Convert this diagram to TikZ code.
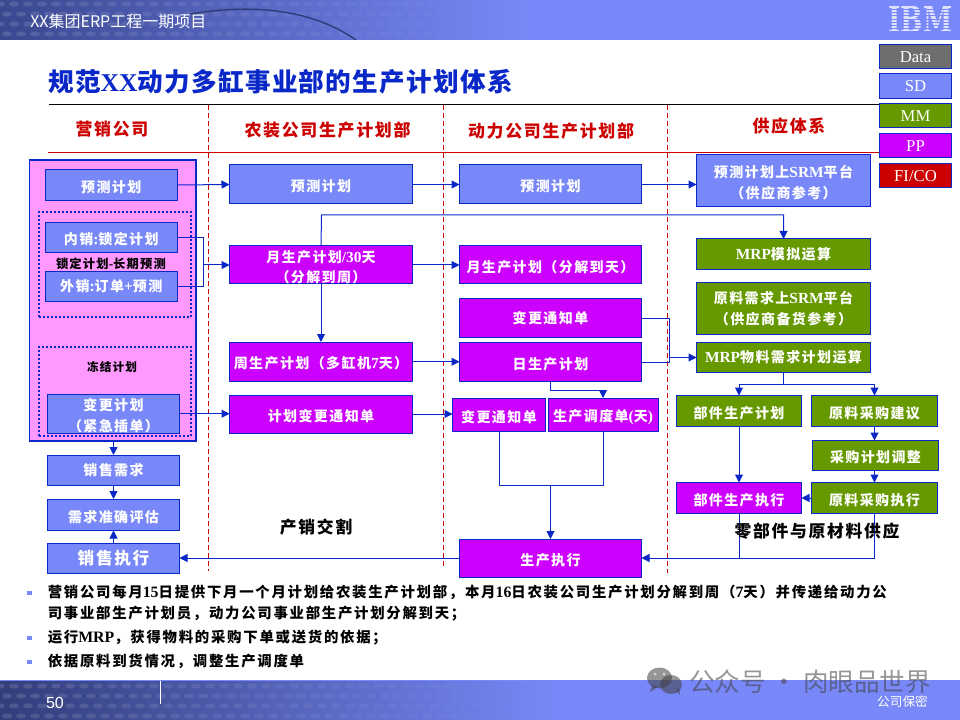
\documentclass[tikz,border=0pt]{standalone}
\usepackage{fontspec}
\usetikzlibrary{arrows.meta}
\setmainfont{Liberation Serif}
\newfontfamily\cj[LetterSpace=10]{Noto Sans CJK SC}
\newfontfamily\cjw[LetterSpace=12]{Noto Sans CJK SC}
\newfontfamily\tcj[LetterSpace=5]{Noto Sans CJK SC}
\newfontfamily\cjplain{Noto Sans CJK SC}
\newfontfamily\lat[Scale=1.1]{Liberation Serif}
\newfontfamily\latplain{Liberation Serif}
\newfontfamily\sanslat{Liberation Sans}
\newfontfamily\slab{DejaVu Serif}
\definecolor{sdc}{HTML}{7888F8}
\definecolor{edgec}{HTML}{0A28C8}
\definecolor{pinkc}{HTML}{FF99FF}
\definecolor{ppc}{HTML}{CC00FF}
\definecolor{mmc}{HTML}{669900}
\definecolor{datac}{HTML}{6E6E6E}
\definecolor{fic}{HTML}{CC0000}
\definecolor{bandd}{HTML}{3A4890}
\newcommand{\bx}[7]{%
  \pgfmathsetmacro\bw{(#5-#3)*0.75}\pgfmathsetmacro\bh{(#6-#4)*0.75}%
  \node[#2,minimum width=\bw pt,minimum height=\bh pt] (#1) at ({(#3+#5)/2},{(#4+#6)/2}) {#7};}
\newcommand{\bxt}[7]{\bx{#1}{#2}{#3}{#4}{#5}{#6}{\rule{0pt}{12pt}#7}}
\tikzset{
  stepbase/.style={draw=edgec,line width=0.75pt,inner sep=0pt,outer sep=0pt,align=center,text=white,
    font=\fontsize{10.5pt}{15.2pt}\selectfont\cj\bfseries},
  sdbox/.style={stepbase,fill=sdc},
  ppbox/.style={stepbase,fill=ppc},
  mmbox/.style={stepbase,fill=mmc},
  legendbox/.style={draw=edgec,line width=0.75pt,inner sep=0pt,outer sep=0pt,text=white,
    font=\fontsize{12.5pt}{14pt}\selectfont\latplain},
  conn/.style={draw=edgec,line width=0.75pt},
  arr/.style={conn,-{Triangle[length=6pt,width=6pt]}},
  head/.style={text=fic,font=\fontsize{12.7pt}{14pt}\selectfont\cj\bfseries,inner sep=0pt},
  note/.style={text=black,font=\fontsize{12.6pt}{14pt}\selectfont\cj\bfseries,inner sep=0pt},
  smallnote/.style={text=black,inner sep=0pt,font=\fontsize{9.2pt}{10pt}\selectfont\cj\bfseries},
  smallnoteb/.style={text=black,inner sep=0pt,font=\fontsize{8.7pt}{10pt}\selectfont\cj\bfseries},
  bullettext/.style={anchor=base west,text=black,inner sep=0pt,font=\fontsize{10.8pt}{14pt}\selectfont\cjw\bfseries},
  bulletmark/.style={fill=sdc,inner sep=0pt,minimum width=3.6pt,minimum height=3.6pt},
  sepline/.style={draw=fic,line width=0.75pt,dash pattern=on 3.6pt off 2.4pt},
}
\begin{document}
\begin{tikzpicture}[x=0.75pt,y=-0.75pt]
\useasboundingbox (0,0) rectangle (960,720);
% bands
\fill[sdc] (0,0) rectangle (960,40.5);
\fill[sdc] (0,680) rectangle (960,720);
\shade[left color=bandd,right color=sdc] (0,0) rectangle (530,40);
\shade[left color=bandd!85!black,right color=sdc] (0,681.5) rectangle (560,720);
\begin{scope}
\clip (0,0) rectangle (530,40);
\foreach \i in {0,...,36}{\foreach \j in {0,...,3}{
  \pgfmathsetmacro\op{0.13*(1-\i/37)}
  \fill[white,opacity=\op] ({\i*14+(mod(\j,2))*7},{4+\j*10}) ellipse (5 and 2.6);}}
\draw[bandd!80!black,line width=1pt] (190,14) .. controls (250,4) and (310,8) .. (356,40);
\end{scope}
\begin{scope}
\clip (0,681.5) rectangle (560,720);
\foreach \i in {0,...,38}{\foreach \j in {0,...,3}{
  \pgfmathsetmacro\op{0.13*(1-\i/39)}
  \fill[white,opacity=\op] ({\i*14+(mod(\j,2))*7},{686+\j*10}) ellipse (5 and 2.6);}}
\end{scope}
\node[anchor=west,text=white,inner sep=0pt,font=\fontsize{12pt}{13pt}\selectfont\cjplain] (hdr) at (30,21) {XX集团ERP工程一期项目};
\node[anchor=center,inner sep=0pt,text=white!75!sdc,font=\bfseries\slab] (ibm) at (920.5,20) {\resizebox{48pt}{19.5pt}{IBM}};
\foreach \yy in {9.5,12.7,15.9,19.1,22.3,25.5,28.7,31.9}{\draw[sdc,line width=0.8pt] (885,\yy) -- (956,\yy);}
\node[anchor=center,text=white,inner sep=0pt,font=\fontsize{12pt}{14pt}\selectfont\sanslat] (pgno) at (55,703) {50};
\coordinate (fa) at (160.5,681); \coordinate (fb) at (160.5,704);
\draw[white,line width=0.75pt] (fa) -- (fb);
\node[anchor=center,text=white,inner sep=0pt,font=\fontsize{9.5pt}{11pt}\selectfont\cjplain] (conf) at (902.5,702) {公司保密};
% title
\node[anchor=west,inner sep=0pt,text=edgec,font=\fontsize{19.2pt}{22pt}\selectfont\tcj\bfseries] (title) at (48,82)
  {规范{\latplain XX}动力多缸事业部的生产计划体系};
% rules
\coordinate (bl) at (49,104.5); \coordinate (br) at (880,104.5);
\coordinate (rl) at (48,152.5); \coordinate (rr) at (880,152.5);
\draw[black,line width=0.8pt] (bl) -- (br);
\draw[fic,line width=0.8pt] (rl) -- (rr);
\coordinate (s1a) at (208.5,105); \coordinate (s1b) at (208.5,571);
\coordinate (s2a) at (443.5,105); \coordinate (s2b) at (443.5,568);
\coordinate (s3a) at (667.5,105); \coordinate (s3b) at (667.5,573);
\draw[sepline] (s1a) -- (s1b);
\draw[sepline] (s2a) -- (s2b);
\draw[sepline] (s3a) -- (s3b);
% headings
\node[head] (h1) at (112,129) {营销公司};
\node[head] (h2) at (327.5,130) {农装公司生产计划部};
\node[head] (h3) at (551,131) {动力公司生产计划部};
\node[head] (h4) at (789,126) {供应体系};
% marketing group
\bx{grp}{draw=edgec,line width=0.8pt,fill=pinkc,inner sep=0pt,outer sep=0pt}{29.5}{160}{196}{441}{}
\bx{dota}{draw=edgec,line width=1.5pt,dash pattern=on 1.5pt off 1.5pt,inner sep=0pt}{39}{212}{191}{317}{}
\bx{dotb}{draw=edgec,line width=1.5pt,dash pattern=on 1.5pt off 1.5pt,inner sep=0pt}{39}{347}{191}{436}{}
\bxt{mf}{sdbox}{45}{169.5}{177.5}{200.5}{预测计划}
\bxt{nei}{sdbox}{45}{222.5}{177.5}{252.5}{内销{\lat:}锁定计划}
\node[smallnote] (lock) at (111,264) {锁定计划{\lat-}长期预测};
\bx{wai}{sdbox}{45}{271.5}{177.5}{301.5}{外销{\lat:}订单{\lat+}预测}
\node[smallnoteb] (frz) at (112,367) {冻结计划};
\bxt{chg}{sdbox}{47.5}{394}{179.5}{433.5}{变更计划\\（紧急插单）}
\bx{dem}{sdbox}{47.5}{455}{179.5}{485.5}{销售需求}
\bxt{acc}{sdbox}{47.5}{499}{179.5}{530.5}{需求准确评估}
\bx{exe}{sdbox,font=\fontsize{12.5pt}{14pt}\selectfont\cj\bfseries}{47.5}{543}{179.5}{573.5}{销售执行}
% second column
\bxt{af}{sdbox}{229.5}{165}{412.5}{204}{预测计划}
\bxt{am}{ppbox}{229.5}{246}{412.5}{284}{月生产计划{\lat/30}天\\（分解到周）}
\bxt{aw}{ppbox}{229.5}{342}{412.5}{381.5}{周生产计划（多缸机{\lat 7}天）}
\bxt{ac}{ppbox}{229.5}{395}{412.5}{433}{计划变更通知单}
% third column
\bxt{bf}{sdbox}{459.5}{165}{641.5}{204}{预测计划}
\bxt{bm}{ppbox}{459.5}{246}{641.5}{284}{月生产计划（分解到天）}
\bx{bn}{ppbox}{459.5}{298.5}{641.5}{337.5}{变更通知单}
\bxt{bd}{ppbox}{459.5}{342.5}{641.5}{381.5}{日生产计划}
\bxt{bc}{ppbox}{452.5}{398}{545.5}{431.5}{变更通知单}
\bxt{bs}{ppbox}{548}{398}{658}{431.5}{生产调度单{\lat(}天{\lat)}}
\bxt{be}{ppbox}{459.5}{539}{641.5}{577}{生产执行}
% fourth column
\bxt{cf}{sdbox}{696.5}{155}{870.5}{206.5}{预测计划上{\lat SRM}平台\\（供应商参考）}
\bx{cs}{mmbox}{696.5}{239}{870.5}{270}{{\lat MRP}模拟运算}
\bx{cr}{mmbox}{696.5}{283}{870.5}{334}{原料需求上{\lat SRM}平台\\（供应商备货参考）}
\bx{cm}{mmbox}{696.5}{342.5}{870.5}{372.5}{{\lat MRP}物料需求计划运算}
\bxt{pp}{mmbox}{676.5}{395.5}{801.5}{426.5}{部件生产计划}
\bxt{rs}{mmbox}{811.5}{395.5}{937.5}{426.5}{原料采购建议}
\bxt{ra}{mmbox}{812.5}{440.5}{938.5}{470.5}{采购计划调整}
\bxt{pe}{ppbox}{676.5}{482.5}{801.5}{513.5}{部件生产执行}
\bxt{re}{mmbox}{811.5}{482.5}{937.5}{513.5}{原料采购执行}
% connectors
\draw[arr] (mf.east) -- (af.west);
\draw[arr] (af.east) -- (bf.west);
\draw[arr] (bf.east) -- (bf.east -| cf.west);
\coordinate (jn) at (203.5,265);
\draw[conn] (nei.east) -- (nei.east -| jn) -- (wai.east -| jn) -- (wai.east);
\draw[arr] (jn) -- (am.west);
\draw[arr] (am.east) -- (bm.west);
\coordinate (top) at (321.5,215);
\draw[arr] (am.north) -- (top) -- (top -| cs.north) -- (cs.north);
\draw[arr] (am.south) -- (aw.north);
\draw[arr] (aw.east) -- (aw.east -| bd.west);
\draw[arr] (chg.east) -- (chg.east -| ac.west);
\draw[arr] (ac.east) -- (ac.east -| bc.west);
\coordinate (jm) at (669,357.5);
\draw[conn] (bn.east) -- (bn.east -| jm) -- (bd.east -| jm) -- (bd.east);
\draw[arr] (jm) -- (cm.west);
\coordinate (jd) at (550.5,390);
\draw[arr] (bd.south) -- (jd) -- (jd -| bs.north) -- (bs.north);
\coordinate (je) at (550.5,485);
\draw[conn] (bc.south) -- (bc.south |- je) -- (bs.south |- je) -- (bs.south);
\draw[arr] (je) -- (be.north);
\coordinate (jq) at (783.5,384);
\draw[conn] (cm.south) -- (jq);
\draw[arr] (jq) -- (jq -| pp.north) -- (pp.north);
\draw[arr] (jq) -- (jq -| rs.north) -- (rs.north);
\draw[arr] (pp.south) -- (pe.north);
\draw[arr] (rs.south) -- (rs.south |- ra.north);
\draw[arr] (ra.south -| re.north) -- (re.north);
\draw[arr] (re.west) -- (pe.east);
\coordinate (jb) at (874.5,558);
\draw[conn] (pe.south) -- (pe.south |- jb);
\draw[arr] (re.south) -- (jb) -- (be.east);
\draw[arr] (be.west) -- (be.west -| exe.east);
\draw[arr] (grp.south -| dem.north) -- (dem.north);
\draw[arr] (dem.south) -- (acc.north);
\draw[arr] (exe.north) -- (acc.south);
% legend
\bx{lg1}{legendbox,fill=datac}{879.5}{44.5}{951.5}{69}{Data}
\bx{lg2}{legendbox,fill=sdc}{879.5}{73.5}{951.5}{99}{SD}
\bx{lg3}{legendbox,fill=mmc}{879.5}{103.5}{951.5}{128}{MM}
\bx{lg4}{legendbox,fill=ppc}{879.5}{133.5}{951.5}{158}{PP}
\bx{lg5}{legendbox,fill=fic}{879.5}{163.5}{951.5}{188}{FI/CO}
% free labels
\node[note] (ln1) at (316,527) {产销交割};
\node[note] (ln2) at (817,531) {零部件与原材料供应};
% bullets
\node[bulletmark] (b1) at (29.5,593) {};
\node[bulletmark] (b2) at (29.5,638) {};
\node[bulletmark] (b3) at (29.5,662) {};
\node[bullettext] (t1) at (47.5,597) {营销公司每月{\lat 15}日提供下月一个月计划给农装生产计划部，本月{\lat 16}日农装公司生产计划分解到周（{\lat 7}天）并传递给动力公};
\node[bullettext] (t2) at (47.5,618) {司事业部生产计划员，动力公司事业部生产计划分解到天；};
\node[bullettext] (t3) at (47.5,642) {运行{\lat MRP}，获得物料的采购下单或送货的依据；};
\node[bullettext] (t4) at (47.5,666) {依据原料到货情况，调整生产调度单};
% watermark
\begin{scope}[opacity=0.55]
\fill[black!75] (659.5,678) ellipse (12.5 and 10.5);
\fill[black!75] (652,685) -- (650,692) -- (658,687) -- cycle;
\fill[black!75] (671,684.5) ellipse (11 and 9.5);
\fill[black!75] (676,691) -- (680,695) -- (679,688) -- cycle;
\fill[white] (655,674) circle (1.6);
\fill[white] (664,674) circle (1.6);
\node[anchor=west,inner sep=0pt,text=black!75,font=\fontsize{19.2pt}{22pt}\selectfont\cjplain] (wm) at (689,682) {公众号 · 肉眼品世界};
\end{scope}
\end{tikzpicture}
\end{document}
